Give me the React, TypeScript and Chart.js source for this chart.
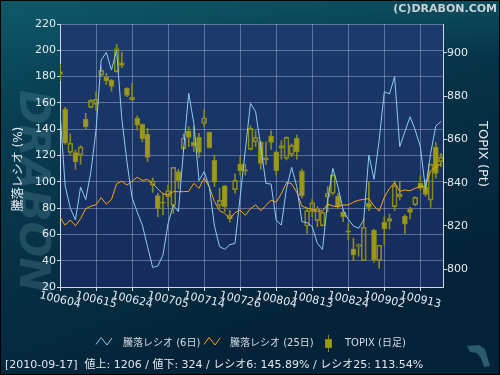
import React, { useEffect, useRef } from 'react';
import { Chart, registerables } from 'chart.js';

Chart.register(...registerables);

// ---- data ----
const dateLabels = ['100604', '100615', '100624', '100705', '100714', '100726', '100804', '100813', '100824', '100902', '100913'];
const dateTickIndex = [0, 7, 14, 21, 28, 35, 42, 49, 56, 63, 70];
const ratioTicks = [20, 40, 60, 80, 100, 120, 140, 160, 180, 200, 220];
const topixTicks = [800, 820, 840, 860, 880, 900];

const ratio6 = [
  153, 97, 80, 71, 96, 86.5, 107.7, 139.4, 192.6, 198.4,
  185, 200.2, 148.3, 115.3, 88, 77, 67.1, 50.7, 34.9, 35.9,
  44.3, 68.4, 82.3, 77.3, 124.2, 167.3, 144.5, 100.9, 107.7, 96.3,
  66.5, 50.7, 48.6, 52.2, 53.2, 88.7, 124.2, 159.7, 153.3, 126.7,
  98.8, 98.3, 70.9, 67.1, 95, 111, 96.3, 69.7, 68.9, 65.9,
  53.2, 48.6, 86.1, 110.2, 96.3, 78.5, 71.4, 66.4, 64.6, 70.9,
  120.4, 101.9, 131.8, 168.5, 166.8, 179.9, 126.7, 138.1, 149.5, 139.4,
  126.7, 94.3, 121.6, 142.4, 145.89,
];

const ratio25 = [
  73, 67, 71, 66.5, 72, 79.5, 81.5, 82.5, 88, 83,
  86.5, 98.5, 100.5, 97.5, 100.5, 103.5, 101, 101.8, 98.8, 94.5,
  91, 90, 92.5, 92.5, 92.5, 92.7, 98.8, 95, 103, 96,
  85, 78, 76, 72, 76.5, 78.5, 74.5, 79.5, 82.5, 78,
  82, 86, 84.5, 91, 99.5, 98.5, 92, 81.5, 80, 79,
  77.5, 78, 83, 81.6, 81.1, 82.4, 82.4, 84.5, 86, 86.6,
  87.2, 81.6, 77.8, 88.2, 95, 99.3, 92.7, 93.8, 93.2, 95,
  96.3, 96.8, 108.4, 111.5, 113.54,
];

const topixOpen = [
  891.3, 873.9, 854.0, 853.9, 852.9, 869.4, 874.8, 876.2, 889.7, 888.8,
  887.3, 891.3, 895.4, 883.6, 878.2, 869.7, 866.9, 862.3, 838.8, 834.0,
  830.8, 833.5, 829.5, 845.1, 855.7, 863.8, 858.6, 860.9, 867.4, 863.2,
  850.3, 829.5, 838.5, 823.2, 836.8, 848.6, 846.0, 855.4, 858.9, 858.8,
  851.5, 861.5, 854.2, 855.9, 851.2, 853.1, 860.5, 845.4, 820.0, 826.6,
  822.5, 820.1, 833.5, 835.1, 833.8, 826.3, 817.7, 809.4, 810.5, 804.0,
  830.4, 818.1, 804.0, 821.8, 822.1, 828.9, 833.4, 824.5, 827.8, 829.8,
  839.7, 837.8, 831.9, 856.3, 849.7,
];
const topixHigh = [
  894.8, 874.8, 862.5, 855.1, 857.1, 872.0, 878.5, 882.0, 893.9, 890.5,
  887.7, 903.9, 900.2, 883.9, 885.9, 870.9, 867.2, 865.1, 842.2, 835.1,
  834.8, 838.9, 847.1, 846.2, 862.5, 865.9, 865.9, 862.8, 873.9, 863.5,
  852.8, 837.4, 838.8, 827.2, 844.0, 852.0, 848.6, 866.2, 863.9, 859.2,
  858.8, 863.9, 854.4, 859.4, 861.2, 857.9, 862.0, 846.3, 828.2, 832.3,
  828.9, 826.6, 838.2, 844.0, 835.1, 827.4, 821.2, 814.3, 811.7, 823.4,
  840.5, 818.6, 811.1, 824.3, 825.5, 840.9, 840.5, 825.1, 828.6, 833.5,
  843.1, 841.2, 848.6, 858.5, 853.5,
];
const topixLow = [
  887.1, 857.8, 852.8, 846.2, 848.5, 864.8, 874.5, 873.5, 889.0, 885.4,
  882.3, 891.0, 893.1, 879.7, 878.0, 864.3, 858.8, 849.7, 835.5, 824.3,
  825.1, 828.9, 825.8, 837.4, 855.1, 856.6, 854.3, 851.7, 865.9, 855.9,
  838.2, 828.2, 826.6, 821.7, 835.2, 843.5, 843.5, 855.1, 856.6, 846.2,
  848.3, 855.4, 843.5, 850.8, 850.5, 852.0, 850.8, 832.8, 816.6, 824.3,
  819.7, 820.0, 826.6, 834.3, 828.2, 822.0, 813.5, 804.0, 806.0, 804.0,
  827.1, 803.1, 800.5, 811.2, 818.5, 827.1, 832.0, 816.6, 823.2, 829.4,
  836.6, 833.8, 828.6, 842.0, 847.4,
];
const topixClose = [
  890.0, 858.5, 858.2, 849.7, 856.5, 865.9, 878.0, 878.5, 891.9, 887.1,
  884.5, 902.0, 894.2, 880.3, 879.4, 866.6, 860.3, 851.7, 840.9, 828.0,
  830.5, 836.3, 847.1, 840.9, 860.5, 860.9, 857.1, 854.0, 870.0, 856.2,
  840.2, 831.8, 828.9, 824.9, 841.1, 845.5, 845.4, 865.1, 860.9, 848.9,
  850.5, 858.6, 845.5, 857.1, 860.9, 857.2, 854.3, 834.0, 827.1, 830.8,
  828.0, 826.3, 835.1, 843.5, 828.9, 824.3, 817.1, 806.6, 811.4, 819.4,
  828.6, 804.3, 811.1, 818.8, 823.4, 838.6, 834.8, 820.8, 826.2, 833.2,
  837.4, 834.6, 848.6, 844.3, 851.7,
];

const legendLabels = ['騰落レシオ (6日)', '騰落レシオ (25日)', 'TOPIX (日足)'];
const statusText = '[2010-09-17]  値上: 1206 / 値下: 324 / レシオ6: 145.89% / レシオ25: 113.54%';

// ---- styles ----
const BLUE = '#8ccdef';
const ORANGE = '#ffa800';
const OLIVE_FILL = '#9b9b15';
const OLIVE_LINE = '#8a8a18';
const GRID = 'rgba(200,210,235,0.38)';
const AXIS = '#cfd6e4';
const TEXT = '#e6eaf2';
const FONT = '"DejaVu Sans", "Noto Sans CJK JP", sans-serif';

const decorPlugin = {
  id: 'decor',
  beforeDraw(chart: any) {
    const { ctx, width, height, chartArea } = chart;
    ctx.save();
    const g = ctx.createLinearGradient(0, 0, 140, 375);
    g.addColorStop(0, '#0d5667');
    g.addColorStop(0.3, '#083d51');
    g.addColorStop(1, '#042338');
    ctx.fillStyle = g;
    ctx.fillRect(0, 0, width, height);
    const g2 = ctx.createLinearGradient(0, 0, 0, 60);
    g2.addColorStop(0, 'rgba(14,90,104,0.6)');
    g2.addColorStop(1, 'rgba(14,90,104,0)');
    ctx.fillStyle = g2;
    ctx.fillRect(0, 0, width, 60);
    const { left, top, right, bottom } = chartArea;
    const pg = ctx.createLinearGradient(0, top, 0, bottom);
    pg.addColorStop(0, '#1c3a6d');
    pg.addColorStop(1, '#152b5b');
    ctx.fillStyle = pg;
    ctx.fillRect(left, top, right - left, bottom - top);
    // watermark
    ctx.translate(31, 191);
    ctx.rotate(Math.PI / 2);
    ctx.font = 'italic bold 42px "DejaVu Sans"';
    ctx.textAlign = 'center';
    ctx.textBaseline = 'middle';
    ctx.fillStyle = 'rgba(110,160,175,0.26)';
    ctx.fillText('DRABON', 0, 0);
    ctx.restore();
  },
  afterDraw(chart: any) {
    const { ctx, width, height } = chart;
    const xs = chart.scales.x;
    ctx.save();
    ctx.fillStyle = TEXT;
    ctx.font = `11px ${FONT}`;
    ctx.textAlign = 'center';
    ctx.textBaseline = 'middle';
    dateTickIndex.forEach((v, k) => {
      const px = xs.getPixelForValue(v);
      ctx.save();
      ctx.translate(px, 300);
      ctx.rotate((13 * Math.PI) / 180);
      ctx.fillText(dateLabels[k], 0, 0);
      ctx.restore();
    });
    ctx.save();
    ctx.translate(19, 169);
    ctx.rotate(-Math.PI / 2);
    ctx.font = `12px ${FONT}`;
    ctx.fillStyle = TEXT;
    ctx.fillText('騰落レシオ (%)', 0, 0);
    ctx.restore();
    ctx.save();
    ctx.translate(482, 154);
    ctx.rotate(Math.PI / 2);
    ctx.font = `13px ${FONT}`;
    ctx.fillStyle = TEXT;
    ctx.fillText('TOPIX (Pt)', 0, 0);
    ctx.restore();
    ctx.font = `bold 11px ${FONT}`;
    ctx.textAlign = 'right';
    ctx.textBaseline = 'alphabetic';
    ctx.fillStyle = '#c9d2da';
    ctx.fillText('(C)DRABON.COM', 497, 12);
    // legend
    ctx.lineWidth = 1;
    const zig = (x0: number, color: string) => {
      ctx.strokeStyle = color;
      ctx.beginPath();
      ctx.moveTo(x0, 344.5);
      ctx.lineTo(x0 + 5, 337.5);
      ctx.lineTo(x0 + 11, 345);
      ctx.lineTo(x0 + 16, 338);
      ctx.stroke();
    };
    zig(96, BLUE);
    zig(204, ORANGE);
    ctx.strokeStyle = OLIVE_LINE;
    ctx.beginPath();
    ctx.moveTo(328.5, 335);
    ctx.lineTo(328.5, 352);
    ctx.stroke();
    ctx.fillStyle = OLIVE_FILL;
    ctx.fillRect(325, 339, 7, 9);
    ctx.strokeRect(325.5, 339.5, 6, 8);
    ctx.font = `10px ${FONT}`;
    ctx.textAlign = 'left';
    ctx.textBaseline = 'middle';
    ctx.fillStyle = '#d6dbe4';
    ctx.fillText(legendLabels[0], 123, 343);
    ctx.fillText(legendLabels[1], 230, 343);
    ctx.fillText(legendLabels[2], 345, 343);
    // status
    ctx.font = `11px ${FONT}`;
    ctx.fillStyle = '#e2e6ee';
    ctx.fillText(statusText, 5, 365);
    // logo
    ctx.fillStyle = '#2c5b6b';
    ctx.beginPath();
    ctx.moveTo(467, 346);
    ctx.lineTo(479, 345);
    ctx.lineTo(485, 349);
    ctx.lineTo(487, 356);
    ctx.lineTo(490, 366);
    ctx.lineTo(484, 367);
    ctx.lineTo(481, 358);
    ctx.lineTo(477, 353);
    ctx.lineTo(470, 352);
    ctx.closePath();
    ctx.fill();
    ctx.strokeStyle = '#000';
    ctx.strokeRect(0.5, 0.5, width - 1, height - 1);
    ctx.restore();
  },
};

export default function App() {
  const ref = useRef<HTMLCanvasElement | null>(null);

  useEffect(() => {
    document.body.style.margin = '0';
    const canvas = ref.current;
    if (!canvas) return;

    const line6 = ratio6.map((v, i) => ({ x: i, y: v }));
    const line25 = ratio25.map((v, i) => ({ x: i, y: v }));
    const bodies = topixOpen.map((o, i) => ({ x: i, y: [o, topixClose[i]] }));
    const wickUp = topixOpen.map((o, i) => ({ x: i, y: [Math.max(o, topixClose[i]), topixHigh[i]] }));
    const wickDown = topixOpen.map((o, i) => ({ x: i, y: [topixLow[i], Math.min(o, topixClose[i])] }));
    const bodyFill = topixOpen.map((o, i) => (topixClose[i] >= o ? 'rgba(0,0,0,0)' : OLIVE_FILL));

    const wickOpts = {
      type: 'bar' as const,
      yAxisID: 'y2',
      backgroundColor: OLIVE_LINE,
      borderWidth: 0,
      barThickness: 1,
      grouped: false,
      order: 3,
    };

    const chart = new Chart(canvas, {
      type: 'line',
      data: {
        datasets: [
          {
            type: 'line',
            label: legendLabels[0],
            data: line6,
            borderColor: BLUE,
            borderWidth: 1,
            pointRadius: 0,
            tension: 0,
            fill: false,
            yAxisID: 'y',
            order: 0,
          },
          {
            type: 'line',
            label: legendLabels[1],
            data: line25,
            borderColor: ORANGE,
            borderWidth: 1,
            pointRadius: 0,
            tension: 0,
            fill: false,
            yAxisID: 'y',
            order: 1,
          },
          {
            type: 'bar',
            label: legendLabels[2],
            data: bodies as any,
            yAxisID: 'y2',
            backgroundColor: bodyFill,
            borderColor: OLIVE_LINE,
            borderWidth: 1,
            borderSkipped: false,
            barThickness: 5,
            minBarLength: 1,
            grouped: false,
            order: 2,
          },
          { ...wickOpts, label: 'wu', data: wickUp as any },
          { ...wickOpts, label: 'wd', data: wickDown as any },
        ] as any,
      },
      options: {
        responsive: false,
        animation: false,
        devicePixelRatio: 1,
        layout: { padding: { top: 24, left: 0, right: 0, bottom: 0 } },
        plugins: { legend: { display: false }, tooltip: { enabled: false } },
        scales: {
          x: {
            type: 'linear',
            min: 0,
            max: 74.4,
            offset: false,
            afterBuildTicks: (s: any) => {
              s.ticks = dateTickIndex.map((v) => ({ value: v }));
            },
            afterFit: (s: any) => {
              s.height = 88;
            },
            ticks: { display: false },
            grid: { color: GRID, tickColor: AXIS, tickLength: 4, offset: false },
            border: { color: AXIS },
          },
          y: {
            type: 'linear',
            position: 'left',
            min: 20,
            max: 220,
            afterBuildTicks: (s: any) => {
              s.ticks = ratioTicks.map((v) => ({ value: v }));
            },
            afterFit: (s: any) => {
              s.width = 60;
            },
            ticks: { color: TEXT, font: { family: FONT, size: 11 }, padding: 1 },
            grid: { color: GRID, tickColor: AXIS, tickLength: 3 },
            border: { color: AXIS },
          },
          y2: {
            type: 'linear',
            position: 'right',
            min: 791.8,
            max: 913.3,
            afterBuildTicks: (s: any) => {
              s.ticks = topixTicks.map((v) => ({ value: v }));
            },
            afterFit: (s: any) => {
              s.width = 57;
            },
            ticks: { color: TEXT, font: { family: FONT, size: 11 }, padding: 0 },
            grid: { drawOnChartArea: false, tickColor: AXIS, tickLength: 4 },
            border: { color: AXIS },
          },
        },
      } as any,
      plugins: [decorPlugin],
    });

    return () => chart.destroy();
  }, []);

  return (
    <div style={{ position: 'absolute', left: 0, top: 0, width: 500, height: 375 }}>
      <canvas ref={ref} width={500} height={375} style={{ display: 'block' }} />
    </div>
  );
}
